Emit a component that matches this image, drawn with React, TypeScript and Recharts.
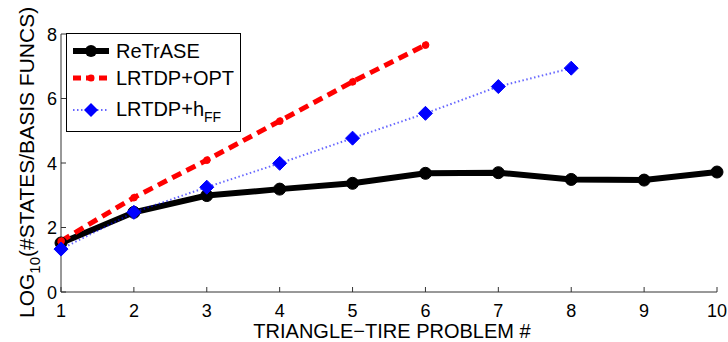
import { LineChart, Line, XAxis, YAxis, Legend } from "recharts";

const problems = [1, 2, 3, 4, 5, 6, 7, 8, 9, 10];
const retrase = [1.52, 2.47, 2.99, 3.19, 3.37, 3.68, 3.7, 3.49, 3.47, 3.72];
const lrtdpOpt = [1.58, 2.93, 4.09, 5.3, 6.52, 7.66, null, null, null, null];
const lrtdpHff = [1.33, 2.47, 3.25, 3.99, 4.77, 5.54, 6.37, 6.94, null, null];
const yTicks = [0, 2, 4, 6, 8];

const data = problems.map((p, i) => ({
  problem: p,
  retrase: retrase[i],
  opt: lrtdpOpt[i],
  hff: lrtdpHff[i],
}));

const FONT = "'Liberation Sans', Arial, Helvetica, sans-serif";

const XTick = (props: any) => {
  const { x, y, payload } = props;
  return (
    <g>
      <line x1={x} x2={x} y1={y} y2={y - 5} stroke="#333" />
      <text x={x} y={y + 25} textAnchor="middle" fontSize={18} fontFamily={FONT} fill="#000">
        {payload.value}
      </text>
    </g>
  );
};

const YTick = (props: any) => {
  const { x, y, payload } = props;
  return (
    <g>
      <line x1={x} x2={x + 5} y1={y} y2={y} stroke="#333" />
      <text x={x - 4} y={y + 6.5} textAnchor="end" fontSize={18} fontFamily={FONT} fill="#000">
        {payload.value}
      </text>
    </g>
  );
};

const Diamond = (props: any) => {
  const { cx, cy, index } = props;
  if (cx == null || cy == null) return <g key={`d${index}`} />;
  const s = 7;
  return (
    <polygon
      key={`d${index}`}
      points={`${cx},${cy - s} ${cx + s},${cy} ${cx},${cy + s} ${cx - s},${cy}`}
      fill="#0000ff"
      stroke="#0000ff"
    />
  );
};

const LegendBox = () => (
  <svg width={176} height={100} style={{ display: "block" }}>
    <rect x={0.5} y={0.5} width={174} height={98} fill="#fff" stroke="#000" />
    <line x1={7} x2={43} y1={18} y2={18} stroke="#000" strokeWidth={6} />
    <circle cx={25} cy={18} r={6} fill="#000" />
    <text x={50} y={24.5} fontSize={20} fontFamily={FONT}>ReTrASE</text>

    <line x1={7} x2={43} y1={45} y2={45} stroke="#ff0000" strokeWidth={5} strokeDasharray="8 5" />
    <circle cx={25} cy={45} r={3.5} fill="#ff0000" />
    <text x={50} y={52} fontSize={20} fontFamily={FONT}>LRTDP+OPT</text>

    <line x1={7} x2={43} y1={77} y2={77} stroke="#0000ff" strokeOpacity={0.6} strokeWidth={2} strokeDasharray="1.5 2.5" />
    <polygon points="25,70 32,77 25,84 18,77" fill="#0000ff" />
    <text x={50} y={82.5} fontSize={20} fontFamily={FONT}>
      LRTDP+h
      <tspan fontSize={14} dy={6}>FF</tspan>
    </text>
  </svg>
);

const YLabel = () => (
  <text transform="translate(34,318) rotate(-90)" fontSize={21} fontFamily={FONT} fill="#000">
    LOG
    <tspan fontSize={15} dy={6}>10</tspan>
    <tspan dy={-6}>(#STATES/BASIS FUNCS)</tspan>
  </text>
);

const XLabel = () => (
  <text x={392} y={338} textAnchor="middle" fontSize={20} fontFamily={FONT} fill="#000">
    TRIANGLE−TIRE PROBLEM #
  </text>
);

export default function App() {
  return (
    <div style={{ position: "absolute", left: 0, top: 0, width: 728, height: 342, background: "#fff" }}>
      <LineChart width={728} height={342} data={data} margin={{ top: 34, right: 11, bottom: 0, left: 0 }}>
        <XAxis
          dataKey="problem"
          type="number"
          domain={[1, 10]}
          ticks={problems}
          height={50}
          tickSize={0}
          tickMargin={0}
          tickLine={false}
          tick={<XTick />}
          stroke="#333"
          label={{ content: () => <XLabel /> }}
        />
        <YAxis
          type="number"
          domain={[0, 8]}
          ticks={yTicks}
          width={61}
          tickSize={0}
          tickMargin={0}
          tickLine={false}
          tick={<YTick />}
          stroke="#333"
          label={{ content: () => <YLabel /> }}
        />
        <Legend
          layout="vertical"
          align="center"
          verticalAlign="middle"
          wrapperStyle={{ left: 66, top: 33, width: 176, height: 100 }}
          content={() => <LegendBox />}
        />
        <Line
          dataKey="retrase"
          stroke="#000"
          strokeWidth={6}
          dot={{ r: 6, fill: "#000", stroke: "#000", strokeWidth: 1 }}
          isAnimationActive={false}
        />
        <Line
          dataKey="opt"
          stroke="#ff0000"
          strokeWidth={5}
          strokeDasharray="10 6"
          dot={{ r: 3.5, fill: "#ff0000", stroke: "#ff0000", strokeWidth: 1 }}
          isAnimationActive={false}
        />
        <Line
          dataKey="hff"
          stroke="#0000ff"
          strokeOpacity={0.6}
          strokeWidth={2}
          strokeDasharray="1.5 2.5"
          dot={<Diamond />}
          isAnimationActive={false}
        />
      </LineChart>
    </div>
  );
}
